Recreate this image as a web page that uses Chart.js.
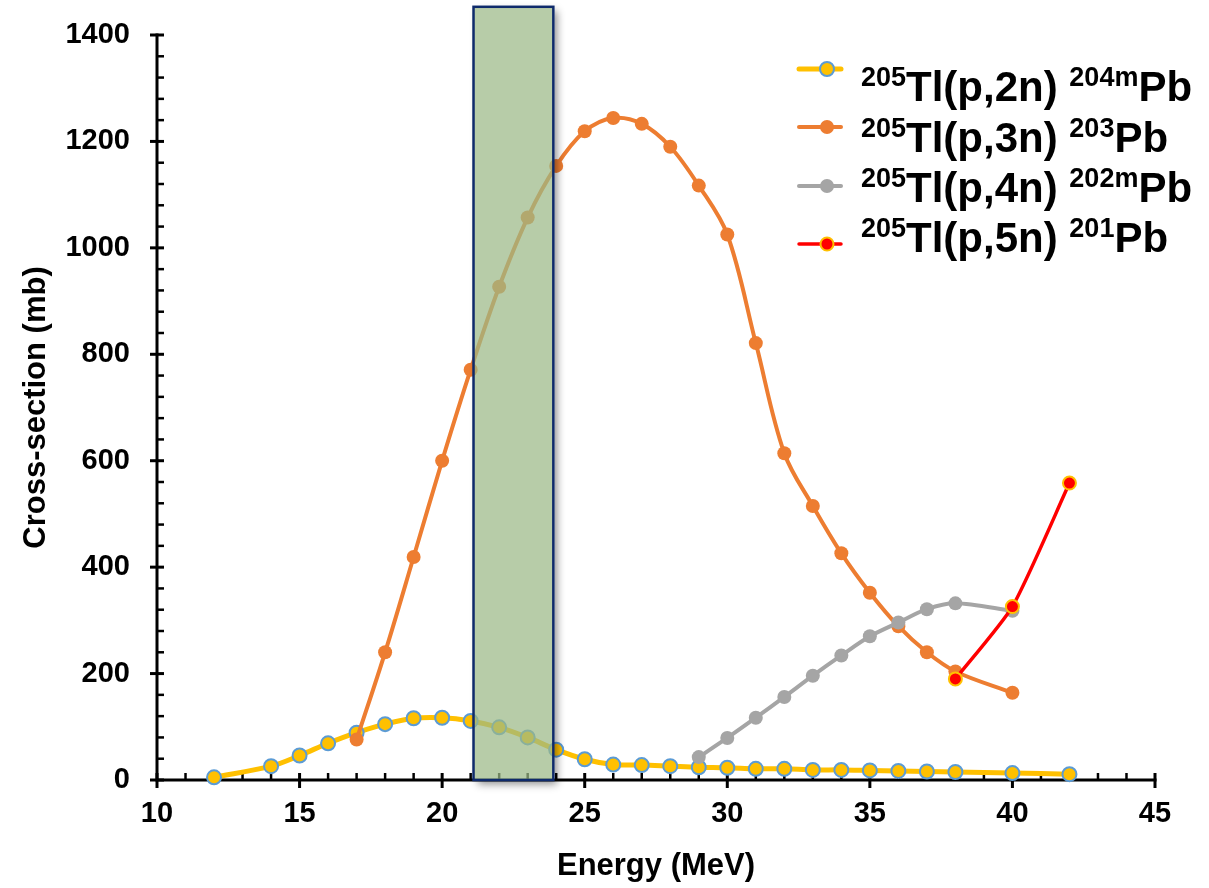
<!DOCTYPE html>
<html>
<head>
<meta charset="utf-8">
<script src="https://cdn.jsdelivr.net/npm/chart.js@4/dist/chart.umd.min.js"></script>
<style>
  html, body { margin: 0; padding: 0; background: #ffffff; }
  #wrap { width: 1209px; height: 888px; }
</style>
</head>
<body>
<div id="wrap"><canvas id="c" width="1209" height="888"></canvas></div>
<script>
// ---------- data ----------
const energy2n = [12, 14, 15, 16, 17, 18, 19, 20, 21, 22, 23, 24, 25, 26, 27, 28, 29, 30, 31, 32, 33, 34, 35, 36, 37, 38, 40, 42];
const xs2n     = [5, 26, 46, 69, 89, 105, 116, 117, 111, 99, 80, 57, 39, 29, 28, 26, 24, 23, 21, 21, 19, 19, 18, 17, 16, 15, 13, 11];

const energy3n = [17, 18, 19, 20, 21, 22, 23, 24, 25, 26, 27, 28, 29, 30, 31, 32, 33, 34, 35, 36, 37, 38, 40];
const xs3n     = [76, 240, 419, 600, 771, 927, 1057, 1154, 1219, 1244, 1233, 1190, 1117, 1025, 821, 614, 515, 426, 352, 289, 240, 204, 164];

const energy4n = [29, 30, 31, 32, 33, 34, 35, 36, 37, 38, 40];
const xs4n     = [43, 79, 117, 156, 196, 234, 270, 296, 321, 332, 318];

const energy5n = [38, 40, 42];
const xs5n     = [190, 326, 558];

// legend labels: [text, isSuperscript]
const label2n = [['205', true], ['Tl(p,2n) ', false], ['204m', true], ['Pb', false]];
const label3n = [['205', true], ['Tl(p,3n) ', false], ['203', true], ['Pb', false]];
const label4n = [['205', true], ['Tl(p,4n) ', false], ['202m', true], ['Pb', false]];
const label5n = [['205', true], ['Tl(p,5n) ', false], ['201', true], ['Pb', false]];

// shaded energy window (MeV) and its top (mb)
const windowRange = [21.1, 23.9];
const windowTop = 1453;

const xTitle = 'Energy (MeV)';
const yTitle = 'Cross-section (mb)';
const xMin = 10, xMax = 45, xMajor = 5, xMinor = 1;
const yMin = 0, yMax = 1400, yMajor = 200, yMinor = 40;

// ---------- helpers ----------
const FONT = "'Liberation Sans', Arial, sans-serif";
function pts(xv, yv) { return xv.map((x, i) => ({ x: x, y: yv[i] })); }

const datasets = [
  { label: '2n', data: pts(energy2n, xs2n), borderColor: '#FFC000', borderWidth: 5,
    pointBackgroundColor: '#FFC000', pointBorderColor: '#5B9BD5', pointBorderWidth: 2, pointRadius: 7,
    order: 4, rich: label2n, tension: 0.35 },
  { label: '3n', data: pts(energy3n, xs3n), borderColor: '#ED7D31', borderWidth: 4,
    pointBackgroundColor: '#ED7D31', pointBorderColor: '#ED7D31', pointBorderWidth: 0, pointRadius: 7,
    order: 3, rich: label3n, tension: 0.35 },
  { label: '4n', data: pts(energy4n, xs4n), borderColor: '#A5A5A5', borderWidth: 4,
    pointBackgroundColor: '#A5A5A5', pointBorderColor: '#A5A5A5', pointBorderWidth: 0, pointRadius: 7,
    order: 2, rich: label4n, tension: 0.3 },
  { label: '5n', data: pts(energy5n, xs5n), borderColor: '#FF0000', borderWidth: 3.5,
    pointBackgroundColor: '#FF0000', pointBorderColor: '#FFC000', pointBorderWidth: 2, pointRadius: 6.5,
    order: 1, rich: label5n, tension: 0.2 }
];
datasets.forEach(d => { d.clip = false; d.fill = false; });

// axes: lines + major/minor tick marks
const axesPlugin = {
  id: 'axesPlugin',
  beforeDatasetsDraw(chart) {
    const ctx = chart.ctx, xs = chart.scales.x, ys = chart.scales.y;
    const x0 = xs.getPixelForValue(xMin), x1 = xs.getPixelForValue(xMax);
    const y0 = ys.getPixelForValue(yMin), y1 = ys.getPixelForValue(yMax);
    ctx.save();
    ctx.strokeStyle = '#000';
    ctx.lineCap = 'butt';
    ctx.lineWidth = 3;
    ctx.beginPath();
    ctx.moveTo(x0, y1 - 1.5); ctx.lineTo(x0, y0 + 1.5);
    ctx.moveTo(x0 - 1.5, y0); ctx.lineTo(x1 + 1.5, y0);
    ctx.stroke();
    for (let v = yMin; v <= yMax + 1e-6; v += yMinor) {
      const p = ys.getPixelForValue(v);
      const major = Math.abs(v / yMajor - Math.round(v / yMajor)) < 1e-6;
      ctx.lineWidth = major ? 3 : 2.5;
      ctx.beginPath();
      ctx.moveTo(major ? x0 - 7 : x0, p);
      ctx.lineTo(x0 + 7, p);
      ctx.stroke();
    }
    for (let v = xMin; v <= xMax + 1e-6; v += xMinor) {
      const p = xs.getPixelForValue(v);
      const major = Math.abs(v / xMajor - Math.round(v / xMajor)) < 1e-6;
      ctx.lineWidth = major ? 3 : 2.5;
      ctx.beginPath();
      ctx.moveTo(p, y0 - 7);
      ctx.lineTo(p, major ? y0 + 8 : y0);
      ctx.stroke();
    }
    ctx.restore();
  }
};

// translucent shaded energy window with a soft shadow
const windowPlugin = {
  id: 'windowPlugin',
  afterDatasetsDraw(chart) {
    const ctx = chart.ctx, xs = chart.scales.x, ys = chart.scales.y;
    const l = xs.getPixelForValue(windowRange[0]);
    const r = xs.getPixelForValue(windowRange[1]);
    const t = ys.getPixelForValue(windowTop);
    const b = ys.getPixelForValue(0);
    ctx.save();
    ctx.beginPath();
    ctx.rect(0, 0, chart.width, chart.height);
    ctx.rect(l - 1, t - 1, r - l + 2, b - t + 2);
    ctx.clip('evenodd');
    ctx.shadowColor = 'rgba(0,0,0,0.45)';
    ctx.shadowBlur = 8;
    ctx.shadowOffsetX = 4;
    ctx.shadowOffsetY = 4;
    ctx.fillStyle = '#ffffff';
    ctx.fillRect(l, t, r - l, b - t);
    ctx.restore();
    ctx.save();
    ctx.fillStyle = 'rgba(155,184,135,0.72)';
    ctx.fillRect(l, t, r - l, b - t);
    ctx.strokeStyle = '#0E2A6B';
    ctx.lineWidth = 2.5;
    ctx.strokeRect(l, t, r - l, b - t);
    ctx.restore();
  }
};

// legend with superscripts
const legendPlugin = {
  id: 'richLegend',
  afterDraw(chart) {
    const ctx = chart.ctx;
    const markerY = [69, 127, 186, 244];
    const baseY = [101, 152, 202, 252];
    const lineX0 = 799, lineX1 = 841, markX = 827, textX = 861;
    ctx.save();
    chart.data.datasets.forEach((d, i) => {
      const my = markerY[i];
      ctx.strokeStyle = d.borderColor;
      ctx.lineWidth = d.borderWidth;
      ctx.lineCap = 'round';
      ctx.beginPath();
      ctx.moveTo(lineX0, my); ctx.lineTo(lineX1, my);
      ctx.stroke();
      ctx.beginPath();
      ctx.arc(markX, my, d.pointRadius, 0, Math.PI * 2);
      ctx.fillStyle = d.pointBackgroundColor;
      ctx.fill();
      if (d.pointBorderWidth > 0) {
        ctx.lineWidth = d.pointBorderWidth;
        ctx.strokeStyle = d.pointBorderColor;
        ctx.stroke();
      }
      let x = textX;
      ctx.fillStyle = '#000';
      ctx.textBaseline = 'alphabetic';
      ctx.textAlign = 'left';
      d.rich.forEach(([txt, sup]) => {
        ctx.font = 'bold ' + (sup ? 27 : 42) + 'px ' + FONT;
        const y = sup ? baseY[i] - 15 : baseY[i];
        ctx.fillText(txt, x, y);
        x += ctx.measureText(txt).width;
      });
    });
    ctx.restore();
  }
};

new Chart(document.getElementById('c'), {
  type: 'line',
  data: { datasets: datasets },
  options: {
    responsive: false,
    animation: false,
    devicePixelRatio: 1,
    layout: { padding: { top: 35, right: 54, left: 0, bottom: 0 } },
    plugins: { legend: { display: false }, tooltip: { enabled: false } },
    scales: {
      x: {
        type: 'linear', min: xMin, max: xMax,
        grid: { display: false, drawTicks: false },
        border: { display: false },
        ticks: { stepSize: xMajor, color: '#000', padding: 17, callback: v => String(v),
                 font: { family: FONT, size: 29, weight: 'bold' } },
        title: { display: true, text: xTitle, color: '#000',
                 font: { family: FONT, size: 31, weight: 'bold' }, padding: { top: 0, bottom: 3 } },
        afterFit(s) { s.height = 108; }
      },
      y: {
        type: 'linear', min: yMin, max: yMax,
        grid: { display: false, drawTicks: false },
        border: { display: false },
        ticks: { stepSize: yMajor, color: '#000', padding: 27, callback: v => String(v),
                 font: { family: FONT, size: 29, weight: 'bold' } },
        title: { display: true, text: yTitle, color: '#000',
                 font: { family: FONT, size: 31, weight: 'bold' }, padding: { top: 18, bottom: 0 } },
        afterFit(s) { s.width = 157; s.paddingTop = 0; s.paddingBottom = 0; }
      }
    }
  },
  plugins: [axesPlugin, windowPlugin, legendPlugin]
});
</script>
</body>
</html>
